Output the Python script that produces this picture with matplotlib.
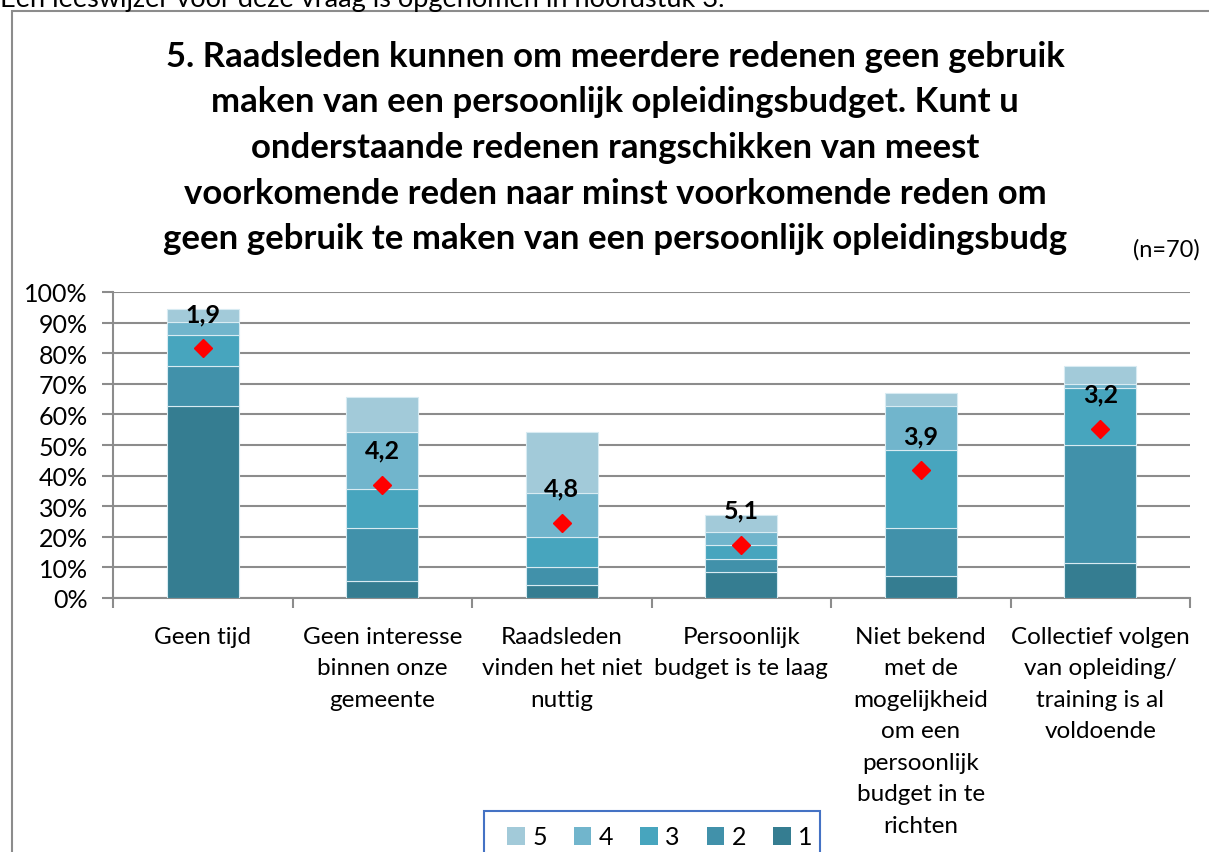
import numpy as np
import matplotlib
matplotlib.use("Agg")
from matplotlib import pyplot as plt
from matplotlib.patches import Rectangle, Patch

plt.rcParams['font.family'] = ['Lato', 'DejaVu Sans']

# categories and data (percent of n=70 respondents per rank)
categories = ["Geen tijd",
              "Geen interesse\nbinnen onze\ngemeente",
              "Raadsleden\nvinden het niet\nnuttig",
              "Persoonlijk\nbudget is te laag",
              "Niet bekend\nmet de\nmogelijkheid\nom een\npersoonlijk\nbudget in te\nrichten",
              "Collectief volgen\nvan opleiding/\ntraining is al\nvoldoende"]
rank1 = [62.9, 5.7, 4.3, 8.6, 7.1, 11.4]
rank2 = [12.9, 17.1, 5.7, 4.3, 15.7, 38.6]
rank3 = [10.0, 12.9, 10.0, 4.3, 25.7, 18.6]
rank4 = [4.3, 18.6, 14.3, 4.3, 14.3, 1.4]
rank5 = [4.3, 11.4, 20.0, 5.7, 4.3, 5.7]
diamond = [81.6, 36.9, 24.5, 17.4, 41.7, 55.2]
avg_labels = ["1,9", "4,2", "4,8", "5,1", "3,9", "3,2"]

ranks = [rank1, rank2, rank3, rank4, rank5]
rank_names = ["1", "2", "3", "4", "5"]
colors = ["#357d91", "#4191aa", "#47a5be", "#71b5cc", "#a2cad9"]

W, H = 1209, 853
fig = plt.figure(figsize=(W / 100, H / 100), dpi=100)

# chart border (continues beyond right/bottom edge)
fig.patches.append(Rectangle((12 / W, -0.05), 1.1, 1 - 12 / H + 0.05,
                             transform=fig.transFigure, fill=False,
                             edgecolor="#8c8c8c", lw=1.5))

# line of text above the chart, partly outside the picture as in the source
fig.text(0.0, 1 - 7 / H, "Een leeswijzer voor deze vraag is opgenomen in hoofdstuk 3.",
         fontsize=19.5, va="baseline", ha="left")

title_lines = ["5. Raadsleden kunnen om meerdere redenen geen gebruik",
               "maken van een persoonlijk opleidingsbudget. Kunt u",
               "onderstaande redenen rangschikken van meest",
               "voorkomende reden naar minst voorkomende reden om",
               "geen gebruik te maken van een persoonlijk opleidingsbudg"]
for i, line in enumerate(title_lines):
    fig.text(615 / W, 1 - (57 + i * 45.5) / H, line, fontsize=25, fontweight="bold",
             ha="center", va="center")
fig.text(1166 / W, 1 - 250 / H, "(n=70)", fontsize=17, ha="center", va="center")

ax = fig.add_axes([113 / W, 1 - 599 / H, (1190 - 113) / W, (599 - 293) / H])
x = np.arange(len(categories))
bottom = np.zeros(len(categories))
for vals, name, c in zip(ranks, rank_names, colors):
    ax.bar(x, vals, width=0.4, bottom=bottom, color=c, edgecolor="#d8ebf2",
           linewidth=0.8, label=name, zorder=3)
    bottom += np.array(vals)

ax.plot(x, diamond, linestyle="none", marker="D", color="#ff0000",
        markersize=9.5, zorder=4)
for xi, yi, lab in zip(x, diamond, avg_labels):
    ax.annotate(lab, (xi, yi), xytext=(0, 25), textcoords="offset points",
                ha="center", va="center", fontsize=18, fontweight="bold", zorder=5)

ax.set_xlim(-0.5, len(categories) - 0.5)
ax.set_ylim(0, 100)
ax.set_yticks(np.arange(0, 101, 10))
ax.set_yticklabels([f"{v}%" for v in range(0, 101, 10)], fontsize=18)
ax.yaxis.grid(True, color="#8c8c8c", lw=1.5, zorder=0)
ax.set_axisbelow(True)
ax.set_xticks(x)
ax.set_xticklabels(categories, fontsize=17.5, linespacing=1.62, va="top")
ax.set_xticks(np.arange(-0.5, len(categories)), minor=True)
ax.tick_params(axis="x", which="major", length=0, pad=20)
ax.tick_params(axis="x", which="minor", length=7, color="#8c8c8c", width=1.5)
ax.tick_params(axis="y", length=8, color="#8c8c8c", width=1.5, pad=10)
for s in ["top", "right"]:
    ax.spines[s].set_visible(False)
for s in ["left", "bottom"]:
    ax.spines[s].set_color("#8c8c8c")
    ax.spines[s].set_linewidth(1.5)

# legend box (its lower edge lies below the picture)
fig.patches.append(Rectangle((484 / W, -0.05), 336 / W, 1 - 812 / H + 0.05,
                             transform=fig.transFigure, fill=False,
                             edgecolor="#4472c4", lw=1.5, zorder=5))
handles = [Patch(facecolor=c) for c in colors][::-1]
leg = fig.legend(handles, rank_names[::-1], ncol=5, loc="center",
                 bbox_to_anchor=(660 / W, 1 - 838 / H), fontsize=18,
                 frameon=False, handlelength=0.7, handleheight=0.7,
                 handletextpad=0.3, columnspacing=1.08, borderpad=0)

fig.savefig("out.png", dpi=100)
